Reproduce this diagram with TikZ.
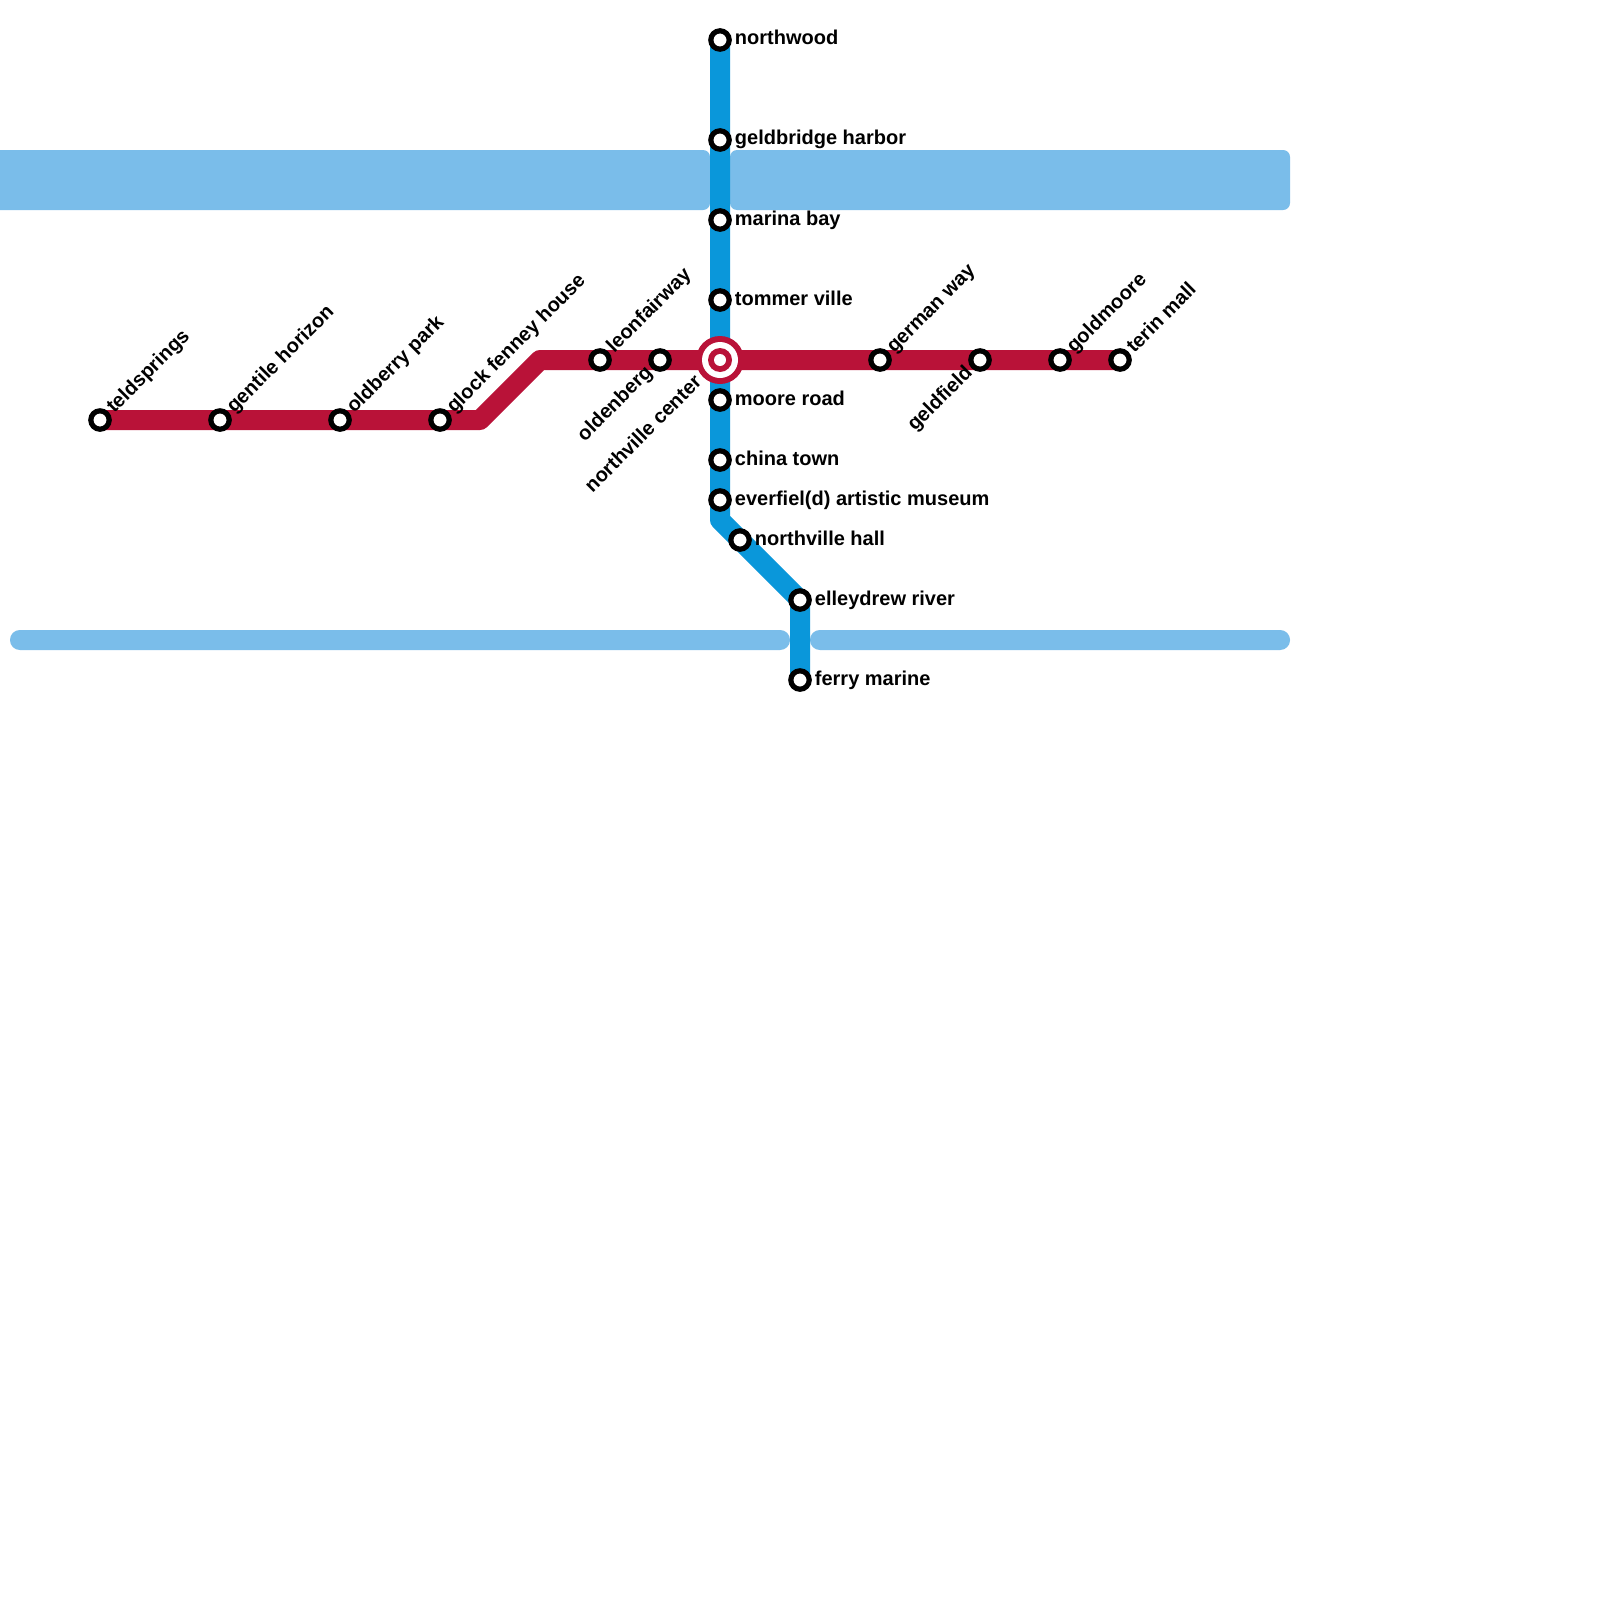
\documentclass[tikz,border=0pt]{standalone}
\usepackage{fontspec}
\setmainfont{Liberation Sans}
\definecolor{water}{HTML}{7ABDEA}
\definecolor{blueline}{HTML}{0A97DA}
\definecolor{redline}{HTML}{B91238}
\pgfdeclarelayer{under}
\pgfsetlayers{under,main}
\tikzset{
 x=0.5pt,y=-0.5pt,
 waterbox/.style={fill=water,draw=none,rounded corners=3.5pt},
 waterthin/.style={fill=water,draw=none,rounded corners=4.9pt},
 metro/.style={line width=10pt,line join=round},
 stn/.style={circle,draw=black,fill=white,line width=2.6pt,minimum size=9.2pt,inner sep=0pt,outer sep=0pt},
 disc/.style={circle,minimum size=#1,inner sep=0pt,outer sep=0pt},
 lab/.style={font=\bfseries\fontsize{10}{12}\selectfont,inner sep=0pt,text=black},
 lr/.style={lab,anchor=base west,xshift=7.25pt,yshift=-2.5pt},
 lu/.style={lab,anchor=base west,xshift=7pt,yshift=3pt,rotate=45},
 ld/.style={lab,anchor=base east,xshift=-3.25pt,yshift=-6.75pt,rotate=45},
 ldc/.style={lab,anchor=base east,xshift=-8.5pt,yshift=-11.5pt,rotate=45},
}
\begin{document}
\begin{tikzpicture}
\useasboundingbox (0,0) rectangle (1600,1600);
\clip (0,0) rectangle (1600,1600);
\node[stn] (nw) at (720,40) {};
\node[stn] (gh) at (720,140) {};
\node[stn] (mb) at (720,220) {};
\node[stn] (tv) at (720,300) {};
\node[stn] (mr) at (720,400) {};
\node[stn] (ct) at (720,460) {};
\node[stn] (em) at (720,500) {};
\node[stn] (nh) at (740,540) {};
\node[stn] (er) at (800,600) {};
\node[stn] (fm) at (800,680) {};
\node[stn] (ts) at (100,420) {};
\node[stn] (gz) at (220,420) {};
\node[stn] (op) at (340,420) {};
\node[stn] (gf) at (440,420) {};
\node[stn] (lf) at (600,360) {};
\node[stn] (ob) at (660,360) {};
\node[stn] (gw) at (880,360) {};
\node[stn] (gd) at (980,360) {};
\node[stn] (gm) at (1060,360) {};
\node[stn] (tm) at (1120,360) {};
\coordinate (nc) at (720,360);
\coordinate (b1) at (720,520);
\coordinate (b2) at (480,420);
\coordinate (b3) at (540,360);
\begin{pgfonlayer}{under}
\fill[white] (0,0) rectangle (1600,1600);
\path[waterbox] (-30,150) rectangle (710,210);
\path[waterbox] (730,150) rectangle (1290,210);
\path[waterthin] (10,630) rectangle (790,650);
\path[waterthin] (810,630) rectangle (1290,650);
\draw[metro,blueline] (nw.center) -- (nc) -- (b1) -- (er.center) -- (fm.center);
\draw[metro,redline] (ts.center) -- (b2) -- (b3) -- (tm.center);
\end{pgfonlayer}
\node[disc=24pt,fill=redline] (nvo) at (nc) {};
\node[disc=18pt,fill=white] (nvw) at (nc) {};
\node[disc=12pt,fill=redline] (nvr) at (nc) {};
\node[disc=6pt,fill=white] (nvi) at (nc) {};
\node[lr] (l1) at (nw.center) {northwood};
\node[lr] (l2) at (gh.center) {geldbridge harbor};
\node[lr] (l3) at (mb.center) {marina bay};
\node[lr] (l4) at (tv.center) {tommer ville};
\node[lr] (l5) at (mr.center) {moore road};
\node[lr] (l6) at (ct.center) {china town};
\node[lr] (l7) at (em.center) {everfiel(d) artistic museum};
\node[lr] (l8) at (nh.center) {northville hall};
\node[lr] (l9) at (er.center) {elleydrew river};
\node[lr] (l10) at (fm.center) {ferry marine};
\node[lu] (l11) at (ts.center) {teldsprings};
\node[lu] (l12) at (gz.center) {gentile horizon};
\node[lu] (l13) at (op.center) {oldberry park};
\node[lu] (l14) at (gf.center) {glock fenney house};
\node[lu] (l15) at (lf.center) {leonfairway};
\node[lu] (l16) at (gw.center) {german way};
\node[lu] (l17) at (gm.center) {goldmoore};
\node[lu] (l18) at (tm.center) {terin mall};
\node[ld] (l19) at (ob.center) {oldenberg};
\node[ld] (l20) at (gd.center) {geldfield};
\node[ldc] (l21) at (nc) {northville center};
\end{tikzpicture}
\end{document}
